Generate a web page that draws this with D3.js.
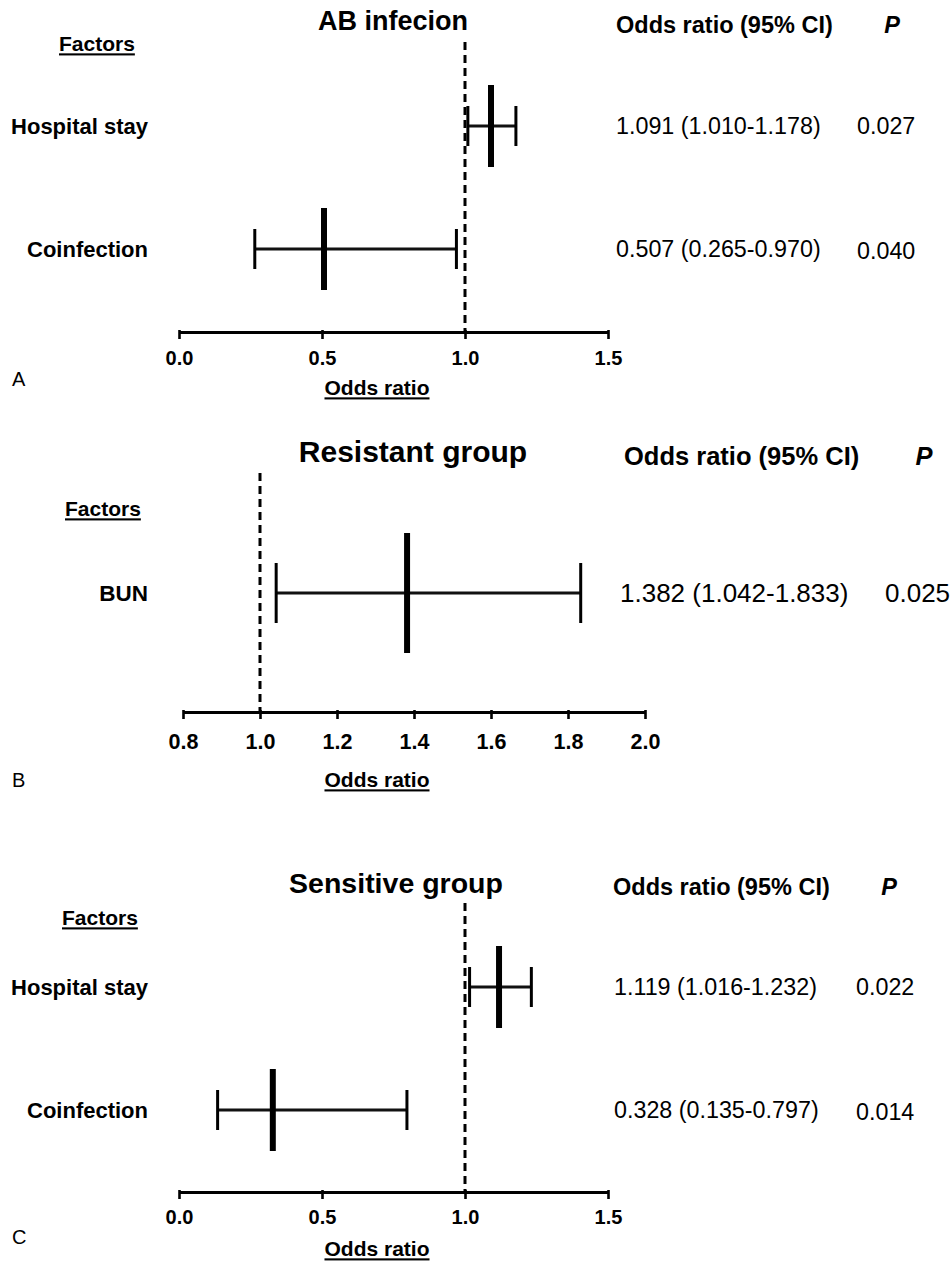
<!DOCTYPE html>
<html>
<head>
<meta charset="utf-8">
<script src="https://cdn.jsdelivr.net/npm/d3@7"></script>
<style>
  html, body { margin: 0; padding: 0; background: #fff; }
  svg { display: block; font-family: "Liberation Sans", Arial, Helvetica, sans-serif; }
</style>
</head>
<body>
<svg id="chart" width="952" height="1262"></svg>
<script>
// ---------- DATA ----------
const panelTitles = ["AB infecion", "Resistant group", "Sensitive group"];
const panelLetters = ["A", "B", "C"];

const factorsA = ["Hospital stay", "Coinfection"];
const orA = [1.091, 0.507];
const lowA = [1.010, 0.265];
const highA = [1.178, 0.970];
const ciTextA = ["1.091 (1.010-1.178)", "0.507 (0.265-0.970)"];
const pA = ["0.027", "0.040"];
const ticksA = [0.0, 0.5, 1.0, 1.5];

const factorsB = ["BUN"];
const orB = [1.382];
const lowB = [1.042];
const highB = [1.833];
const ciTextB = ["1.382 (1.042-1.833)"];
const pB = ["0.025"];
const ticksB = [0.8, 1.0, 1.2, 1.4, 1.6, 1.8, 2.0];

const factorsC = ["Hospital stay", "Coinfection"];
const orC = [1.119, 0.328];
const lowC = [1.016, 0.135];
const highC = [1.232, 0.797];
const ciTextC = ["1.119 (1.016-1.232)", "0.328 (0.135-0.797)"];
const pC = ["0.022", "0.014"];
const ticksC = [0.0, 0.5, 1.0, 1.5];

const headerCI = "Odds ratio (95% CI)";
const headerP = "P";
const factorsHeader = "Factors";
const xAxisLabel = "Odds ratio";
const refLine = 1.0;

// ---------- LAYOUT ----------
const layouts = [
  { factors: factorsA, or: orA, low: lowA, high: highA, ci: ciTextA, p: pA, ticks: ticksA,
    domain: [0, 1.5], xr: [179, 608], axisY: 332, dashTop: 42, rows: [126, 249],
    titleX: 393, titleY: 21, titleSize: 27, headerX: 616, headerY: 25, headerSize: 23.5,
    pX: 892, valX: 616, pvX: 857, valSize: 23.3, labelSize: 22,
    factorsX: 59, factorsY: 44, tickY: 358, tickSize: 20, xlabX: 377, xlabY: 388, letterY: 379,
    halfPt: 41, halfCap: 20, pvDy: [0, 2] },
  { factors: factorsB, or: orB, low: lowB, high: highB, ci: ciTextB, p: pB, ticks: ticksB,
    domain: [0.8, 2.0], xr: [183, 645], axisY: 712, dashTop: 473, rows: [593, 593],
    titleX: 413, titleY: 451, titleSize: 30, headerX: 624, headerY: 456, headerSize: 25.5,
    pX: 924, valX: 620, pvX: 885, valSize: 26, labelSize: 22.5,
    factorsX: 65, factorsY: 509, tickY: 741, tickSize: 21.5, xlabX: 377, xlabY: 780, letterY: 780,
    halfPt: 60, halfCap: 30, pvDy: [0] },
  { factors: factorsC, or: orC, low: lowC, high: highC, ci: ciTextC, p: pC, ticks: ticksC,
    domain: [0, 1.5], xr: [179, 608], axisY: 1192, dashTop: 903, rows: [987, 1110],
    titleX: 396, titleY: 883, titleSize: 28.5, headerX: 613, headerY: 887, headerSize: 23.5,
    pX: 889, valX: 614, pvX: 856, valSize: 23.3, labelSize: 22,
    factorsX: 62, factorsY: 918, tickY: 1217, tickSize: 20, xlabX: 377, xlabY: 1249, letterY: 1237,
    halfPt: 41, halfCap: 20, pvDy: [0, 2] }
];

const svg = d3.select("#chart");

layouts.forEach((L, i) => {
  const g = svg.append("g");
  const x = d3.scaleLinear().domain(L.domain).range(L.xr);
  const y = d3.scalePoint().domain(L.factors).range(L.rows);

  // Title
  g.append("text").attr("x", L.titleX).attr("y", L.titleY).attr("dy", "0.35em")
    .attr("text-anchor", "middle").attr("font-weight", "bold").attr("font-size", L.titleSize)
    .text(panelTitles[i]);

  // Headers
  g.append("text").attr("x", L.headerX).attr("y", L.headerY).attr("dy", "0.35em")
    .attr("font-weight", "bold").attr("font-size", L.headerSize).text(headerCI);
  g.append("text").attr("x", L.pX).attr("y", L.headerY).attr("dy", "0.35em")
    .attr("text-anchor", "middle").attr("font-weight", "bold").attr("font-style", "italic")
    .attr("font-size", L.headerSize).text(headerP);

  g.append("text").attr("x", L.factorsX).attr("y", L.factorsY).attr("dy", "0.35em")
    .attr("font-weight", "bold").attr("font-size", 21)
    .style("text-decoration", "underline").text(factorsHeader);

  // Reference dashed line
  g.append("line")
    .attr("x1", x(refLine)).attr("x2", x(refLine))
    .attr("y1", L.dashTop).attr("y2", L.axisY)
    .attr("stroke", "#000").attr("stroke-width", 3).attr("stroke-dasharray", "8,5");

  // Axis
  const axis = d3.axisBottom(x).tickValues(L.ticks).tickFormat(d3.format(".1f")).tickSize(7).tickSizeOuter(0);
  const ag = g.append("g").attr("transform", `translate(0,${L.axisY})`).call(axis);
  ag.select(".domain").attr("stroke", "#000").attr("stroke-width", 3.2);
  ag.selectAll(".tick line").attr("stroke", "#000").attr("stroke-width", 2.6).attr("y1", -2);
  ag.selectAll(".tick text").attr("y", L.tickY - L.axisY).attr("dy", "0.35em")
    .attr("font-size", L.tickSize).attr("font-weight", "bold").attr("fill", "#000")
    .attr("font-family", "Liberation Sans, Arial, sans-serif");

  g.append("text").attr("x", L.xlabX).attr("y", L.xlabY).attr("dy", "0.35em")
    .attr("text-anchor", "middle").attr("font-weight", "bold").attr("font-size", 21)
    .style("text-decoration", "underline").text(xAxisLabel);

  g.append("text").attr("x", 12).attr("y", L.letterY).attr("dy", "0.35em")
    .attr("font-size", 20).text(panelLetters[i]);

  // Rows
  L.factors.forEach((f, j) => {
    const cy = y(f);
    g.append("text").attr("x", 148).attr("y", cy).attr("dy", "0.35em")
      .attr("text-anchor", "end").attr("font-weight", "bold").attr("font-size", L.labelSize).text(f);
    // CI line
    g.append("line").attr("x1", x(L.low[j])).attr("x2", x(L.high[j]))
      .attr("y1", cy).attr("y2", cy).attr("stroke", "#111").attr("stroke-width", 3.2);
    // caps
    [L.low[j], L.high[j]].forEach(v => {
      g.append("line").attr("x1", x(v)).attr("x2", x(v))
        .attr("y1", cy - L.halfCap).attr("y2", cy + L.halfCap)
        .attr("stroke", "#000").attr("stroke-width", 3);
    });
    // point estimate
    g.append("line").attr("x1", x(L.or[j])).attr("x2", x(L.or[j]))
      .attr("y1", cy - L.halfPt).attr("y2", cy + L.halfPt)
      .attr("stroke", "#000").attr("stroke-width", 6);
    // table text
    g.append("text").attr("x", L.valX).attr("y", cy).attr("dy", "0.35em")
      .attr("font-size", L.valSize).text(L.ci[j]);
    g.append("text").attr("x", L.pvX).attr("y", cy + (L.pvDy[j] || 0)).attr("dy", "0.35em")
      .attr("font-size", L.valSize).text(L.p[j]);
  });
});
</script>
</body>
</html>
